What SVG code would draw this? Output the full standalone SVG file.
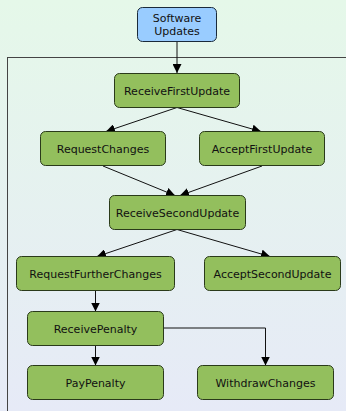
<svg xmlns="http://www.w3.org/2000/svg" width="346" height="411" viewBox="0 0 346 411">
<defs>
<linearGradient id="bg" x1="0" y1="0" x2="0" y2="1">
<stop offset="0" stop-color="#e5f8e9"/>
<stop offset="1" stop-color="#e6eaf7"/>
</linearGradient>
<marker id="arr" viewBox="0 0 10 10" refX="10" refY="5" markerWidth="9" markerHeight="9" markerUnits="userSpaceOnUse" orient="auto">
<path d="M0,0 L10,5 L0,10 z" fill="#000"/>
</marker>
<style>
.n rect{fill:#93bf5d;stroke:#2a3a1a;stroke-width:1}
.s rect{fill:#99ccff;stroke:#1a2a3a;stroke-width:1}
text{font-family:"DejaVu Sans",sans-serif;font-size:11px;fill:#111;text-anchor:middle}
.e path{fill:none;stroke:#111;stroke-width:1;marker-end:url(#arr)}
</style>
</defs>
<rect x="0" y="0" width="346" height="411" fill="url(#bg)"/>
<rect id="container" x="7.5" y="57.5" width="360" height="380" fill="none" stroke="#444" stroke-width="1"/>
<g id="edges" class="e">
<path d="M177,42 L177,73"/>
<path d="M177,107.5 L106,131.5"/>
<path d="M177,107.5 L261,131.5"/>
<path d="M103,166 L175,195.5"/>
<path d="M262,166 L180,195.5"/>
<path d="M177,229.5 L97,256.5"/>
<path d="M177,229.5 L270,256.5"/>
<path d="M95.5,290.5 L95.5,311.5"/>
<path d="M95.5,345.5 L95.5,365.5"/>
<path d="M163.5,328 L265.5,328 L265.5,365.5"/>
</g>
<g id="SoftwareUpdates" class="s"><rect x="137.5" y="7.5" width="79" height="34" rx="5"/><text x="177" y="21.5">Software</text><text x="177" y="34.5">Updates</text></g>
<g id="ReceiveFirstUpdate" class="n"><rect x="114.5" y="73.5" width="125" height="34" rx="5"/><text x="177" y="94.5">ReceiveFirstUpdate</text></g>
<g id="RequestChanges" class="n"><rect x="40.5" y="131.5" width="125" height="34" rx="5"/><text x="103" y="152.5">RequestChanges</text></g>
<g id="AcceptFirstUpdate" class="n"><rect x="199.5" y="131.5" width="125" height="34" rx="5"/><text x="262" y="152.5">AcceptFirstUpdate</text></g>
<g id="ReceiveSecondUpdate" class="n"><rect x="109.5" y="195.5" width="136" height="34" rx="5"/><text x="177.5" y="216.5">ReceiveSecondUpdate</text></g>
<g id="RequestFurtherChanges" class="n"><rect x="16.5" y="256.5" width="158" height="34" rx="5"/><text x="95.5" y="277.5">RequestFurtherChanges</text></g>
<g id="AcceptSecondUpdate" class="n"><rect x="204.5" y="256.5" width="136" height="34" rx="5"/><text x="272.5" y="277.5">AcceptSecondUpdate</text></g>
<g id="ReceivePenalty" class="n"><rect x="27.5" y="311.5" width="136" height="34" rx="5"/><text x="95.5" y="332.5">ReceivePenalty</text></g>
<g id="PayPenalty" class="n"><rect x="27.5" y="365.5" width="136" height="34" rx="5"/><text x="95.5" y="386.5">PayPenalty</text></g>
<g id="WithdrawChanges" class="n"><rect x="197.5" y="365.5" width="136" height="34" rx="5"/><text x="265.5" y="386.5">WithdrawChanges</text></g>
</svg>
